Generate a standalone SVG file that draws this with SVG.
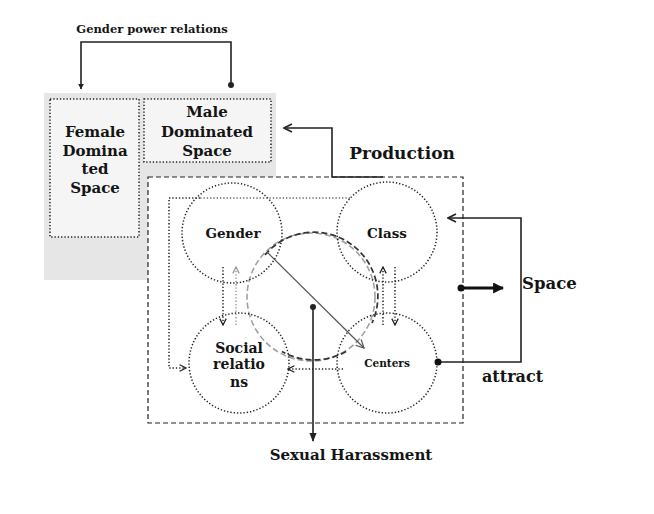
<svg xmlns="http://www.w3.org/2000/svg" width="654" height="514" viewBox="0 0 654 514">
<style>
text{font-family:"DejaVu Serif","Liberation Serif",serif;font-weight:bold;fill:#141414;text-anchor:middle}
.dot{fill:none;stroke:#222;stroke-width:1.5;stroke-dasharray:1.3 2}
.box{fill:#f5f5f5;stroke:#222;stroke-width:1.5;stroke-dasharray:1.3 2}
.dotg{fill:none;stroke:#999;stroke-width:1.5;stroke-dasharray:1.3 2}
.solid{fill:none;stroke:#222;stroke-width:1.6}
.dash{fill:none;stroke:#333;stroke-width:1.7;stroke-dasharray:6 3}
</style>
<defs>
<marker id="tri" viewBox="0 0 10 10" refX="9" refY="5" markerWidth="6" markerHeight="6" orient="auto" markerUnits="userSpaceOnUse"><path d="M0,0L10,5L0,10z" fill="#222"/></marker>
<marker id="triB" viewBox="0 0 10 10" refX="9" refY="5" markerWidth="11" markerHeight="11" orient="auto" markerUnits="userSpaceOnUse"><path d="M0,0L10,5L0,10z" fill="#111"/></marker>
<marker id="triM" viewBox="0 0 10 10" refX="9" refY="5" markerWidth="9" markerHeight="9" orient="auto" markerUnits="userSpaceOnUse"><path d="M0,1L10,5L0,9z" fill="#222"/></marker>
<marker id="chev" viewBox="0 0 10 10" refX="9" refY="5" markerWidth="10" markerHeight="10" orient="auto" markerUnits="userSpaceOnUse"><path d="M1,1L9,5L1,9" fill="none" stroke="#222" stroke-width="1.6"/></marker>
<marker id="chevS" viewBox="0 0 10 10" refX="9" refY="5" markerWidth="8" markerHeight="8" orient="auto" markerUnits="userSpaceOnUse"><path d="M1,1L9,5L1,9" fill="none" stroke="#222" stroke-width="1.6"/></marker>
<marker id="chevG" viewBox="0 0 10 10" refX="9" refY="5" markerWidth="8" markerHeight="8" orient="auto" markerUnits="userSpaceOnUse"><path d="M1,1L9,5L1,9" fill="none" stroke="#999" stroke-width="1.6"/></marker>
<marker id="chevL" viewBox="0 0 10 10" refX="9" refY="5" markerWidth="10" markerHeight="10" orient="auto" markerUnits="userSpaceOnUse"><path d="M1,1L9,5L1,9" fill="none" stroke="#555" stroke-width="1.2"/></marker>
</defs>
<rect x="0" y="0" width="654" height="514" fill="#fff"/>
<g id="background">
<rect x="44" y="93" width="232" height="187" fill="#e6e6e6"/>
<rect x="148" y="177" width="315" height="246" fill="#fff" stroke="#222" stroke-width="1.2" stroke-dasharray="5 3"/>
</g>
<g id="female-space">
<rect x="50" y="99" width="89" height="138" class="box"/>
<text font-size="15" x="95" y="137">Female</text>
<text font-size="15" x="95" y="156">Domina</text>
<text font-size="15" x="95" y="174">ted</text>
<text font-size="15" x="95" y="193">Space</text>
</g>
<g id="male-space">
<rect x="144" y="99" width="127" height="63" class="box"/>
<text font-size="15" x="207" y="117">Male</text>
<text font-size="15" x="207" y="137">Dominated</text>
<text font-size="15" x="207" y="156">Space</text>
</g>
<g id="center-circles">
<circle cx="311" cy="297" r="64" fill="none" stroke="#a0a0a0" stroke-width="1.6" stroke-dasharray="6 3"/>
<path class="dash" d="M265,254.9A64,64 0 0 1 372,323"/>
<path class="dash" d="M346,351.4A64,64 0 0 1 282,351.4"/>
</g>
<g id="gender"><circle cx="232" cy="233" r="50" class="dot"/><text font-size="13.5" x="233" y="238">Gender</text></g>
<g id="class"><circle cx="387" cy="232" r="50" class="dot"/><text font-size="13.5" x="387" y="238">Class</text></g>
<g id="social-relations"><circle cx="239" cy="363" r="50" class="dot"/>
<text font-size="14" x="239" y="353">Social</text><text font-size="14" x="239" y="369">relatio</text><text font-size="14" x="239" y="387">ns</text></g>
<g id="centers"><circle cx="387" cy="363" r="50" class="dot"/><text font-size="10.5" x="387" y="367">Centers</text></g>
<g id="labels">
<text font-size="11.5" x="152" y="33">Gender power relations</text>
<text font-size="17" x="402" y="159">Production</text>
<text font-size="16.5" x="522" y="289" style="text-anchor:start">Space</text>
<text font-size="16" x="482" y="382" style="text-anchor:start">attract</text>
<text font-size="15" x="351" y="460">Sexual Harassment</text>
</g>
<g id="connectors">
<path class="solid" d="M231,85V42H81V89" marker-end="url(#tri)"/>
<circle cx="231" cy="85" r="3" fill="#222"/>
<path class="solid" d="M383,177H332V128H284" marker-end="url(#chev)"/>
<path class="dot" d="M200,198H169V368H186" marker-end="url(#chevS)"/>
<path class="dot" style="stroke:#666" d="M350,198H200"/>
<path class="dot" d="M223,267V325" marker-end="url(#chevS)"/>
<path class="dotg" d="M236,325V267" marker-end="url(#chevG)"/>
<path class="dot" d="M383,325V267" marker-end="url(#chevS)"/>
<path class="dot" d="M395,267V325" marker-end="url(#chevS)"/>
<path class="dot" d="M343,369H288" marker-end="url(#chevS)"/>
<path d="M267,252L364,348" fill="none" stroke="#555" stroke-width="1.2" marker-end="url(#chevL)"/>
<path class="solid" d="M313,307V441" marker-end="url(#triM)"/>
<circle cx="313" cy="307" r="3" fill="#222"/>
<path d="M461,288H503" fill="none" stroke="#111" stroke-width="3" marker-end="url(#triB)"/>
<circle cx="461" cy="288" r="3.5" fill="#111"/>
<path class="solid" d="M438,362H521V218H448" marker-end="url(#chev)"/>
<circle cx="438" cy="362" r="3.5" fill="#111"/>
</g>
</svg>
